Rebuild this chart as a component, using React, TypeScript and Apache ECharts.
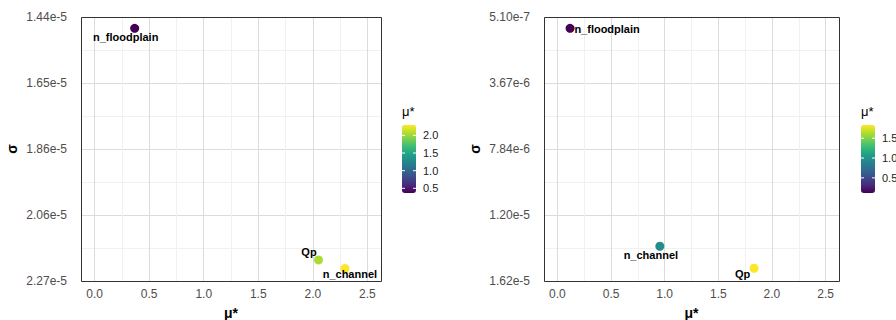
import React, { useEffect, useRef } from 'react';
import * as echarts from 'echarts';

// ---- Data ----
const factors = ['n_floodplain', 'Qp', 'n_channel'];

// Left panel
const muStarA = [0.367, 2.052, 2.294];
const sigmaA = [1.476e-5, 2.203e-5, 2.23e-5];
const sigmaTickLabelsA = ['1.44e-5', '1.65e-5', '1.86e-5', '2.06e-5', '2.27e-5'];
const legendTicksA = [0.5, 1.0, 1.5, 2.0];

// Right panel
const muStarB = [0.118, 1.833, 0.955];
const sigmaB = [1.05e-6, 1.539e-5, 1.399e-5];
const sigmaTickLabelsB = ['5.10e-7', '3.67e-6', '7.84e-6', '1.20e-5', '1.62e-5'];
const legendTicksB = [0.5, 1.0, 1.5];

const xTicks = [0, 0.5, 1, 1.5, 2, 2.5];

const viridis = ['#440154', '#482878', '#3e4989', '#31688e', '#26828e', '#1f9e89', '#35b779', '#6ece58', '#b5de2b', '#fde725'];

// ---- Layout (not data) ----
const FONT = '"Liberation Sans", Arial, Helvetica, sans-serif';
const MAJOR = '#dcdcdc';
const MINOR = '#f1f1f1';
const NONE = 'rgba(0,0,0,0)';
const labelOffsetsA: Record<string, number[]> = { n_floodplain: [-9, 9], Qp: [-9.5, -7.5], n_channel: [5, 6] };
const labelOffsetsB: Record<string, number[]> = { n_floodplain: [37, 1], Qp: [-11.5, 5.7], n_channel: [-9, 8.5] };

const panels = [
  {
    mu: muStarA, sigma: sigmaA, tickLabels: sigmaTickLabelsA, legendTicks: legendTicksA,
    grid: { left: 81, top: 17, width: 300, height: 264 },
    bar: { left: 402, top: 125, width: 14, height: 68 },
    offsets: labelOffsetsA,
  },
  {
    mu: muStarB, sigma: sigmaB, tickLabels: sigmaTickLabelsB, legendTicks: legendTicksB,
    grid: { left: 544, top: 17, width: 295, height: 264 },
    bar: { left: 861, top: 125, width: 14, height: 68 },
    offsets: labelOffsetsB,
  },
];

// piecewise-linear position of a sigma value between the labelled ticks
function sigmaPos(s: number, labels: string[]): number {
  const t = labels.map(Number);
  for (let i = 0; i < t.length - 1; i++) {
    if (s <= t[i + 1] || i === t.length - 2) {
      return i + (s - t[i]) / (t[i + 1] - t[i]);
    }
  }
  return 0;
}

export default function App() {
  const ref = useRef<HTMLDivElement>(null);
  useEffect(() => {
    if (!ref.current) return;
    const chart = echarts.init(ref.current, undefined, { renderer: 'svg' });
    const xMin = xTicks[0];
    const xMax = xTicks[xTicks.length - 1];
    const step = xTicks[1] - xTicks[0];
    const pad = (xMax - xMin) * 0.05; // 0.125
    const fine = step / 4; // 0.125, so min (-0.125) is a multiple

    const grids: any[] = [];
    const xAxes: any[] = [];
    const yAxes: any[] = [];
    const series: any[] = [];
    const visualMaps: any[] = [];
    const graphics: any[] = [];

    panels.forEach((p, i) => {
      grids.push({ ...p.grid, show: false, containLabel: false, outerBoundsMode: 'none' });
      xAxes.push({
        type: 'value', gridIndex: i, min: xMin - pad, max: xMax + pad, interval: fine,
        axisLine: { show: false }, axisTick: { show: false },
        axisLabel: {
          color: '#4d4d4d', fontSize: 12, fontFamily: FONT, margin: 7, interval: 0,
          formatter: (v: number) => (xTicks.some((t) => Math.abs(t - v) < 1e-9) ? v.toFixed(1) : ''),
        },
        // ticks: -0.125, 0, 0.125, 0.25, 0.375, 0.5 ...
        splitLine: { show: true, lineStyle: { color: [NONE, MAJOR, NONE, MINOR], width: 1 } },
        name: 'μ*', nameLocation: 'middle', nameGap: 25,
        nameTextStyle: { fontSize: 14, fontWeight: 'bold', color: '#000', fontFamily: FONT },
      });
      yAxes.push({
        type: 'value', gridIndex: i, min: 0, max: p.tickLabels.length - 1, interval: 0.5, inverse: true,
        axisLine: { show: false }, axisTick: { show: false },
        axisLabel: {
          color: '#4d4d4d', fontSize: 12, fontFamily: FONT, margin: 14, interval: 0,
          formatter: (v: number) => (Number.isInteger(v) ? p.tickLabels[v] : ''),
        },
        splitLine: { show: true, lineStyle: { color: [MAJOR, MINOR], width: 1 } },
        name: 'σ', nameLocation: 'middle', nameGap: 62, nameRotate: 90,
        nameTextStyle: { fontSize: 14, fontWeight: 'bold', color: '#000', fontFamily: FONT },
      });
      series.push({
        type: 'scatter', xAxisIndex: i, yAxisIndex: i, symbolSize: 9, z: 5,
        itemStyle: { opacity: 1 },
        data: factors.map((f, k) => ({
          name: f,
          value: [p.mu[k], sigmaPos(p.sigma[k], p.tickLabels)],
          label: {
            show: true, formatter: f, position: 'inside', offset: p.offsets[f],
            color: '#000', fontSize: 11, fontWeight: 'bold', fontFamily: FONT,
            align: 'center', verticalAlign: 'middle',
          },
        })),
      });
      const vmin = Math.min(...p.mu);
      const vmax = Math.max(...p.mu);
      visualMaps.push({
        type: 'continuous', seriesIndex: i, dimension: 0, min: vmin, max: vmax,
        inRange: { color: viridis }, calculable: false, orient: 'vertical',
        left: p.bar.left, top: p.bar.top, itemWidth: p.bar.width, itemHeight: p.bar.height, padding: 0,
        showLabel: false, hoverLink: false,
      });
      graphics.push({
        type: 'rect', z: 50, silent: true,
        shape: { x: p.grid.left + 0.5, y: p.grid.top + 0.5, width: p.grid.width, height: p.grid.height },
        style: { fill: 'none', stroke: '#333', lineWidth: 1 },
      });
      graphics.push({
        type: 'text', left: p.bar.left, top: p.bar.top - 20,
        style: { text: 'μ*', fontSize: 13, fontFamily: FONT, fill: '#000' },
      });
      p.legendTicks.forEach((t) => {
        const y = p.bar.top + ((vmax - t) / (vmax - vmin)) * p.bar.height;
        graphics.push({
          type: 'text', x: p.bar.left + p.bar.width + 7, y,
          style: { text: t.toFixed(1), fontSize: 11, fontFamily: FONT, fill: '#222', verticalAlign: 'middle', align: 'left' },
        });
        graphics.push({ type: 'line', shape: { x1: p.bar.left, y1: y, x2: p.bar.left + 3, y2: y }, style: { stroke: '#fff', lineWidth: 1 }, z: 100 });
        graphics.push({ type: 'line', shape: { x1: p.bar.left + p.bar.width - 3, y1: y, x2: p.bar.left + p.bar.width, y2: y }, style: { stroke: '#fff', lineWidth: 1 }, z: 100 });
      });
    });

    chart.setOption({
      animation: false,
      backgroundColor: '#fff',
      textStyle: { fontFamily: FONT },
      grid: grids,
      xAxis: xAxes,
      yAxis: yAxes,
      visualMap: visualMaps,
      series,
      graphic: graphics,
    });
    return () => chart.dispose();
  }, []);
  return <div ref={ref} style={{ position: 'fixed', left: 0, top: 0, width: 896, height: 320 }} />;
}
